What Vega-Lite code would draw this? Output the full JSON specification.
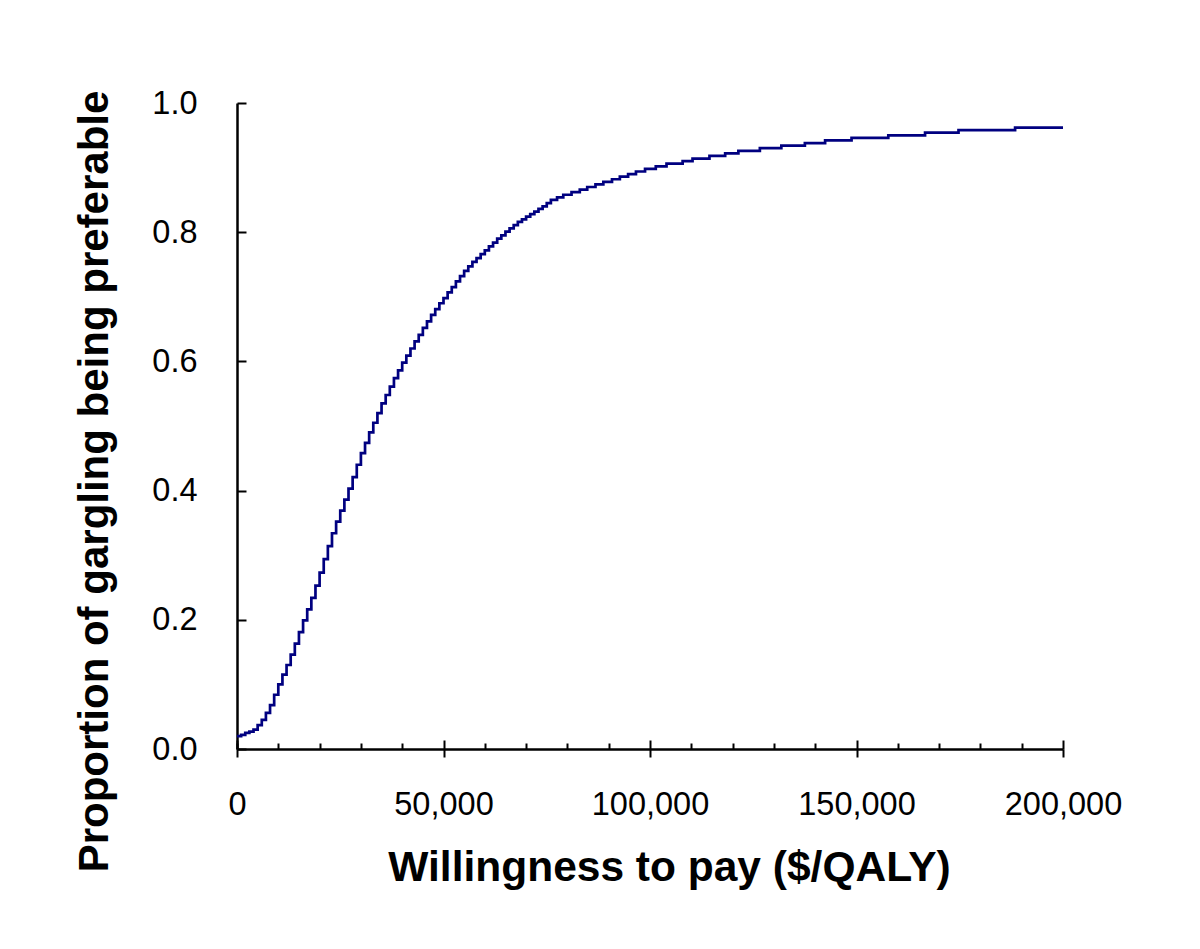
{
  "$schema": "https://vega.github.io/schema/vega-lite/v6.json",
  "width": 826,
  "height": 646,
  "autosize": "none",
  "padding": {"left": 237, "top": 103, "right": 137, "bottom": 200},
  "background": "white",
  "config": {
    "view": {"stroke": null},
    "axis": {"grid": false, "domainColor": "black", "tickColor": "black", "labelColor": "black", "titleColor": "black", "labelFont": "Liberation Sans", "titleFont": "Liberation Sans", "labelFlush": false, "labelOverlap": false}
  },
  "data": {"values": [
    {"wtp": 0, "p": 0.020}, {"wtp": 1000, "p": 0.022}, {"wtp": 2000, "p": 0.025}, {"wtp": 3000, "p": 0.027},
    {"wtp": 4000, "p": 0.030}, {"wtp": 5000, "p": 0.037}, {"wtp": 6000, "p": 0.045}, {"wtp": 7000, "p": 0.056},
    {"wtp": 8000, "p": 0.068}, {"wtp": 9000, "p": 0.084}, {"wtp": 10000, "p": 0.100}, {"wtp": 11000, "p": 0.115},
    {"wtp": 12000, "p": 0.130}, {"wtp": 13000, "p": 0.146}, {"wtp": 14000, "p": 0.163}, {"wtp": 15000, "p": 0.181},
    {"wtp": 16000, "p": 0.199}, {"wtp": 17000, "p": 0.216}, {"wtp": 18000, "p": 0.234}, {"wtp": 19000, "p": 0.253},
    {"wtp": 20000, "p": 0.273}, {"wtp": 21000, "p": 0.294}, {"wtp": 22000, "p": 0.314}, {"wtp": 23000, "p": 0.334},
    {"wtp": 24000, "p": 0.352}, {"wtp": 25000, "p": 0.369}, {"wtp": 26000, "p": 0.386}, {"wtp": 27000, "p": 0.403},
    {"wtp": 28000, "p": 0.421}, {"wtp": 29000, "p": 0.440}, {"wtp": 30000, "p": 0.458}, {"wtp": 31000, "p": 0.474},
    {"wtp": 32000, "p": 0.490}, {"wtp": 33000, "p": 0.505}, {"wtp": 34000, "p": 0.520}, {"wtp": 35000, "p": 0.535},
    {"wtp": 36000, "p": 0.548}, {"wtp": 37000, "p": 0.561}, {"wtp": 38000, "p": 0.574}, {"wtp": 39000, "p": 0.586},
    {"wtp": 40000, "p": 0.598}, {"wtp": 41000, "p": 0.609}, {"wtp": 42000, "p": 0.620}, {"wtp": 43000, "p": 0.631},
    {"wtp": 44000, "p": 0.641}, {"wtp": 45000, "p": 0.652}, {"wtp": 46000, "p": 0.662}, {"wtp": 47000, "p": 0.672},
    {"wtp": 48000, "p": 0.681}, {"wtp": 49000, "p": 0.690}, {"wtp": 50000, "p": 0.698}, {"wtp": 51000, "p": 0.707},
    {"wtp": 52000, "p": 0.715}, {"wtp": 53000, "p": 0.724}, {"wtp": 54000, "p": 0.732}, {"wtp": 55000, "p": 0.740},
    {"wtp": 56000, "p": 0.747}, {"wtp": 57000, "p": 0.754}, {"wtp": 58000, "p": 0.760}, {"wtp": 59000, "p": 0.766},
    {"wtp": 60000, "p": 0.772}, {"wtp": 61000, "p": 0.778}, {"wtp": 62000, "p": 0.784}, {"wtp": 63000, "p": 0.790},
    {"wtp": 64000, "p": 0.795}, {"wtp": 65000, "p": 0.801}, {"wtp": 66000, "p": 0.806}, {"wtp": 67000, "p": 0.811},
    {"wtp": 68000, "p": 0.816}, {"wtp": 69000, "p": 0.820}, {"wtp": 70000, "p": 0.824}, {"wtp": 71000, "p": 0.828},
    {"wtp": 72000, "p": 0.832}, {"wtp": 73000, "p": 0.836}, {"wtp": 74000, "p": 0.840}, {"wtp": 75000, "p": 0.845},
    {"wtp": 76000, "p": 0.850}, {"wtp": 77500, "p": 0.854}, {"wtp": 79000, "p": 0.858}, {"wtp": 81000, "p": 0.862},
    {"wtp": 83000, "p": 0.866}, {"wtp": 84800, "p": 0.870}, {"wtp": 86800, "p": 0.874}, {"wtp": 88700, "p": 0.878},
    {"wtp": 90800, "p": 0.882}, {"wtp": 92700, "p": 0.886}, {"wtp": 94700, "p": 0.890}, {"wtp": 96600, "p": 0.894},
    {"wtp": 98800, "p": 0.898}, {"wtp": 101400, "p": 0.902}, {"wtp": 104000, "p": 0.906}, {"wtp": 107900, "p": 0.910},
    {"wtp": 110300, "p": 0.914}, {"wtp": 114400, "p": 0.918}, {"wtp": 118200, "p": 0.922}, {"wtp": 121400, "p": 0.926},
    {"wtp": 126600, "p": 0.930}, {"wtp": 131800, "p": 0.934}, {"wtp": 137500, "p": 0.938}, {"wtp": 142400, "p": 0.942},
    {"wtp": 148800, "p": 0.946}, {"wtp": 157700, "p": 0.950}, {"wtp": 166600, "p": 0.954}, {"wtp": 174700, "p": 0.958},
    {"wtp": 188400, "p": 0.962}, {"wtp": 200000, "p": 0.962}
  ]},
  "resolve": {"axis": {"x": "independent", "y": "independent"}},
  "layer": [
    {
      "mark": {"type": "line", "opacity": 0},
      "encoding": {
        "x": {"field": "wtp", "type": "quantitative", "scale": {"domain": [0, 200000], "nice": false},
          "axis": {"orient": "bottom", "values": [0, 10000, 20000, 30000, 40000, 60000, 70000, 80000, 90000, 110000, 120000, 130000, 140000, 160000, 170000, 180000, 190000], "tickSize": -6, "tickWidth": 2, "labels": false, "domain": false, "title": null}},
        "y": {"field": "p", "type": "quantitative", "scale": {"domain": [0, 1], "nice": false},
          "axis": {"orient": "left", "values": [0, 0.2, 0.4, 0.6, 0.8, 1.0], "tickSize": -9, "tickWidth": 2, "labels": false, "domainWidth": 2.5, "title": null}}
      }
    },
    {
      "mark": {"type": "line", "opacity": 0},
      "encoding": {
        "x": {"field": "wtp", "type": "quantitative", "scale": {"domain": [0, 200000], "nice": false},
          "axis": {"orient": "bottom", "values": [0, 50000, 100000, 150000, 200000], "tickSize": -9, "tickWidth": 2, "labels": false, "domain": false, "title": null}},
        "y": {"field": "p", "type": "quantitative", "scale": {"domain": [0, 1], "nice": false},
          "axis": {"orient": "left", "values": [0, 0.2, 0.4, 0.6, 0.8, 1.0], "ticks": false, "domain": false, "format": ".1f", "labelFontSize": 32.5, "labelPadding": 40,
            "title": "Proportion of gargling being preferable", "titleFontSize": 42, "titleFontWeight": "bold", "titlePadding": 35, "titleY": 378}}
      }
    },
    {
      "mark": {"type": "line", "interpolate": "step-after", "color": "#000080", "strokeWidth": 2.7},
      "encoding": {
        "x": {"field": "wtp", "type": "quantitative", "scale": {"domain": [0, 200000], "nice": false},
          "axis": {"orient": "bottom", "values": [0, 50000, 100000, 150000, 200000], "format": ",d", "tickSize": 8, "tickWidth": 2, "domainWidth": 2.5, "labelFontSize": 32.5, "labelPadding": 31,
            "title": "Willingness to pay ($/QALY)", "titleFontSize": 42.5, "titleFontWeight": "bold", "titlePadding": 26, "titleX": 432}},
        "y": {"field": "p", "type": "quantitative", "scale": {"domain": [0, 1], "nice": false}, "axis": null}
      }
    }
  ]
}
